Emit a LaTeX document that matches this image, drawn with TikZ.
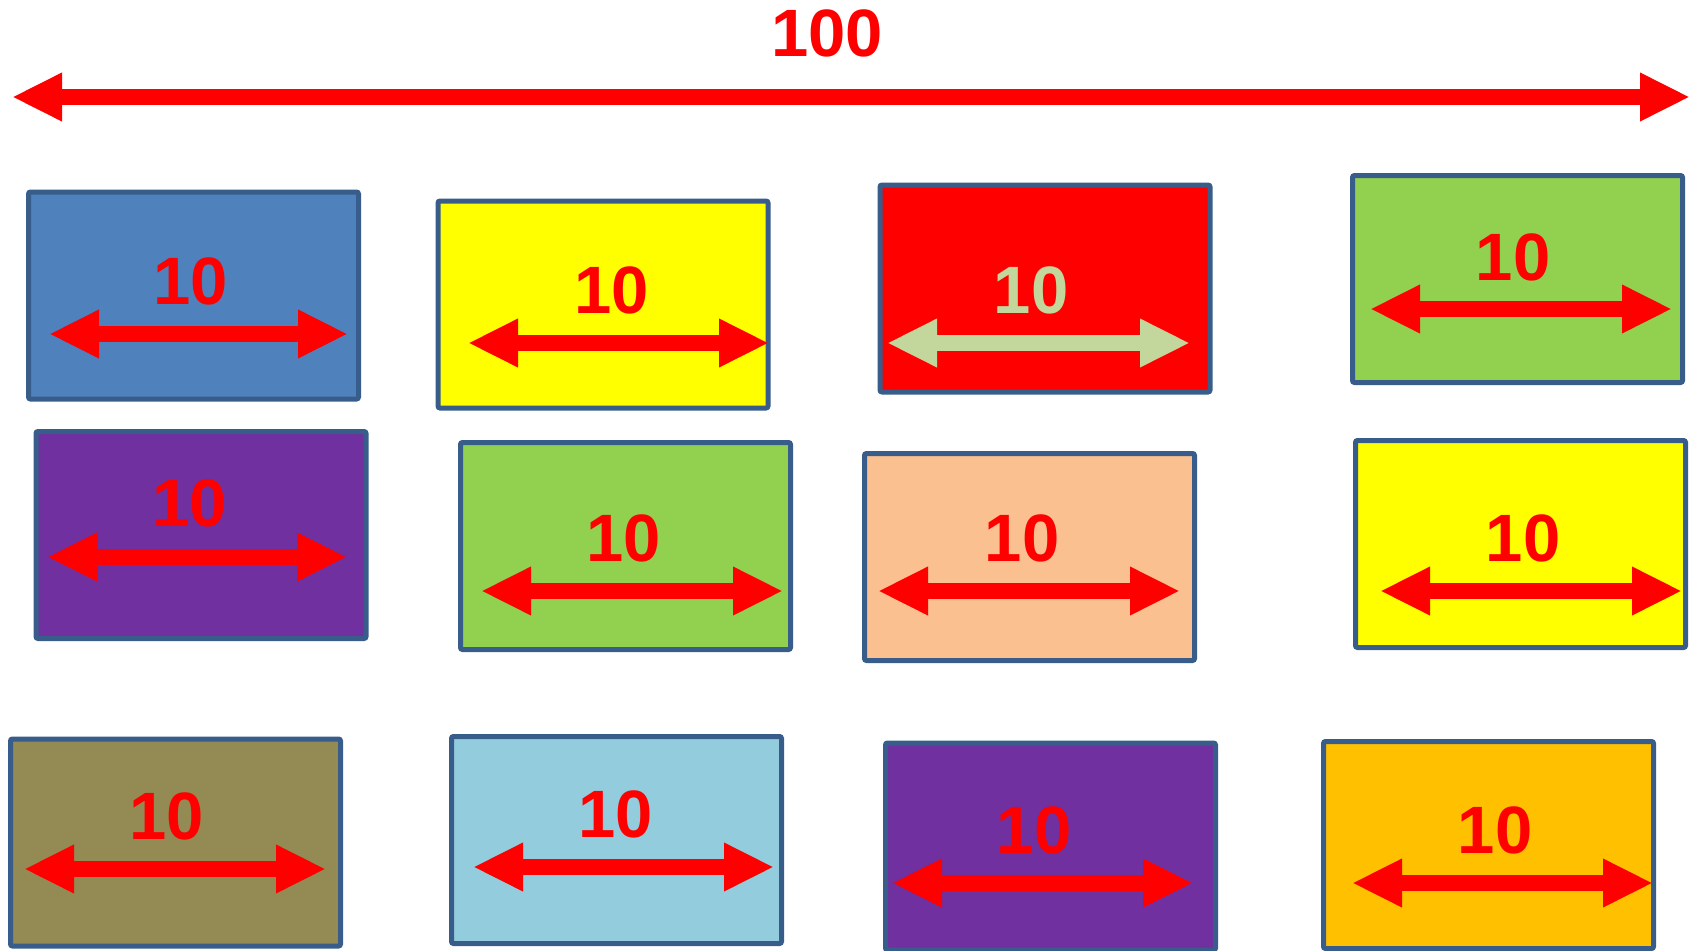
\documentclass[tikz,border=0pt]{standalone}
\usepackage{fontspec}
\setmainfont{Liberation Sans}
\usetikzlibrary{arrows.meta}
\definecolor{bord}{HTML}{385D8A}
\definecolor{cblue}{HTML}{4F81BD}
\definecolor{cyellow}{HTML}{FFFF00}
\definecolor{cred}{HTML}{FF0000}
\definecolor{cgreen}{HTML}{92D050}
\definecolor{cpurple}{HTML}{7030A0}
\definecolor{cpeach}{HTML}{FAC090}
\definecolor{colive}{HTML}{948A54}
\definecolor{clblue}{HTML}{93CDDD}
\definecolor{corange}{HTML}{FFC000}
\definecolor{clgreen}{HTML}{C3D69B}
\tikzset{
  box/.style={draw=bord, line width=5pt, rounded corners=2pt, minimum width=330pt, minimum height=207pt, inner sep=0pt},
  lbl/.style={inner sep=0pt, font=\fontsize{67}{80}\selectfont\bfseries, text=cred},
  dim/.style={draw=cred, line width=16pt, {Triangle[length=50pt,width=45pt]}-{Triangle[length=50pt,width=45pt]}},
}
\newcommand{\cell}[9]{%
  \node[box, fill=#2] (#1) at (#3) {};
  \node[lbl, text=#9] (#1t) at (#4) {10};
  \coordinate (#1a) at (#5,#7);
  \coordinate (#1b) at (#6,#7);
  \draw[dim, draw=#8] (#1a) -- (#1b);
}
\begin{document}
\begin{tikzpicture}[x=1pt,y=-1pt]
\useasboundingbox (0,0) rectangle (1696,950);
% top dimension
\node[lbl] (top) at (827,33) {100};
\coordinate (topa) at (12,97);
\coordinate (topb) at (1690,97);
\draw[dim] (topa) -- (topb);
% row 1
\cell{b1}{cblue}{193.5,295.5}{191,281}{49}{348}{334}{cred}{cred}
\cell{b2}{cyellow}{603,304.5}{612,290}{468}{769}{343}{cred}{cred}
\cell{b3}{cred}{1045,288.5}{1031,290}{887}{1190}{343}{clgreen}{clgreen}
\cell{b4}{cgreen}{1517.5,279}{1513,257}{1370}{1672}{309}{cred}{cred}
% row 2
\cell{b5}{cpurple}{201,535}{190,503}{47}{347}{557}{cred}{cred}
\cell{b6}{cgreen}{625.5,546}{624,538}{481}{783}{591}{cred}{cred}
\cell{b7}{cpeach}{1029.5,557}{1022,538}{878}{1180}{591}{cred}{cred}
\cell{b8}{cyellow}{1520.5,544}{1523,538}{1380}{1682}{591}{cred}{cred}
% row 3
\cell{b9}{colive}{175.5,842.5}{167,816}{24}{326}{869}{cred}{cred}
\cell{b10}{clblue}{616.5,840}{616,814}{473}{774}{867}{cred}{cred}
\cell{b11}{cpurple}{1050.5,846.5}{1034,830}{892}{1193}{883}{cred}{cred}
\cell{b12}{corange}{1488.5,845}{1495,830}{1352}{1653}{883}{cred}{cred}
\end{tikzpicture}
\end{document}
